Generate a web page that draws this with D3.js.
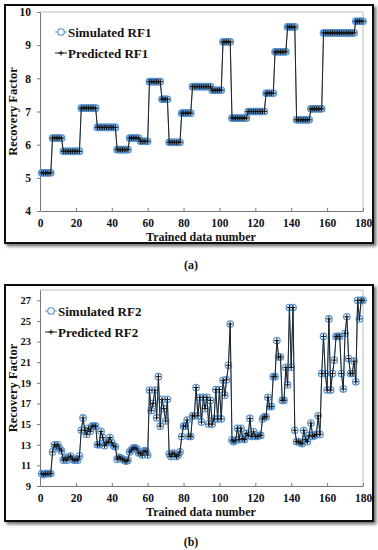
<!DOCTYPE html>
<html>
<head>
<meta charset="utf-8">
<script src="https://cdn.jsdelivr.net/npm/d3@7"></script>
<style>
  body { margin: 0; background: #fff; }
  text { font-family: "Liberation Serif", "Times New Roman", serif; font-weight: bold; }
</style>
</head>
<body>
<div class="chart"></div>
<script>
// trained data index 1..180
var simulatedRF1 = [
  5.15, 5.15, 5.15, 5.15, 5.15, 5.15,
  6.2, 6.2, 6.2, 6.2, 6.2, 6.2,
  5.8, 5.8, 5.8, 5.8, 5.8, 5.8, 5.8, 5.8, 5.8, 5.8,
  7.1, 7.1, 7.1, 7.1, 7.1, 7.1, 7.1, 7.1, 7.1,
  6.52, 6.52, 6.52, 6.52, 6.52, 6.52, 6.52, 6.52, 6.52, 6.52, 6.52,
  5.85, 5.85, 5.85, 5.85, 5.85, 5.85, 5.85,
  6.2, 6.2, 6.2, 6.2, 6.2, 6.2,
  6.1, 6.1, 6.1, 6.1, 6.1,
  7.9, 7.9, 7.9, 7.9, 7.9, 7.9, 7.9,
  7.37, 7.37, 7.37, 7.37,
  6.07, 6.07, 6.07, 6.07, 6.07, 6.07, 6.07,
  6.95, 6.95, 6.95, 6.95, 6.95, 6.95,
  7.75, 7.75, 7.75, 7.75, 7.75, 7.75, 7.75, 7.75, 7.75, 7.75, 7.75,
  7.64, 7.64, 7.64, 7.64, 7.64, 7.64,
  9.1, 9.1, 9.1, 9.1, 9.1,
  6.8, 6.8, 6.8, 6.8, 6.8, 6.8, 6.8, 6.8, 6.8,
  7.0, 7.0, 7.0, 7.0, 7.0, 7.0, 7.0, 7.0, 7.0, 7.0,
  7.55, 7.55, 7.55, 7.55, 7.55,
  8.8, 8.8, 8.8, 8.8, 8.8, 8.8, 8.8,
  9.55, 9.55, 9.55, 9.55, 9.55,
  6.75, 6.75, 6.75, 6.75, 6.75, 6.75, 6.75, 6.75,
  7.08, 7.08, 7.08, 7.08, 7.08, 7.08, 7.08,
  9.37, 9.37, 9.37, 9.37, 9.37, 9.37, 9.37, 9.37, 9.37, 9.37, 9.37, 9.37, 9.37, 9.37, 9.37, 9.37, 9.37, 9.37,
  9.72, 9.72, 9.72, 9.72, 9.72
];
// predicted values sit on top of the simulated ones in the picture
var predictedRF1 = simulatedRF1.slice();

var simulatedRF2 = [
  10.2, 10.1, 10.2, 10.2, 10.2, 10.2, 12.3, 13.0, 12.8, 13.0,
  12.6, 12.4, 11.5, 11.7, 11.5, 11.8, 11.9, 11.6, 11.5, 11.6,
  11.5, 11.9, 14.4, 15.6, 14.4, 14.0, 14.6, 14.3, 14.8, 14.8,
  14.8, 13.0, 13.0, 14.3, 13.7, 12.9, 13.2, 13.3, 13.7, 13.2,
  12.9, 12.8, 11.6, 11.8, 11.7, 11.6, 11.5, 11.4, 11.5, 12.3,
  12.5, 12.7, 12.7, 12.6, 12.2, 12.2, 12.0, 12.4, 12.4, 12.0,
  18.3, 16.3, 17.0, 18.3, 15.6, 19.6, 14.8, 17.4, 16.5, 15.3,
  17.4, 12.1, 11.85, 12.2, 12.1, 11.85, 12.0, 12.3, 13.8, 14.8,
  14.8, 15.4, 13.8, 13.8, 15.8, 15.8, 18.55, 15.8, 17.6, 15.2,
  17.6, 16.5, 17.6, 15.0, 17.3, 15.0, 15.5, 18.35, 15.5, 18.35,
  15.5, 19.25, 17.8, 19.3, 20.7, 24.7, 13.45, 13.3, 13.45, 14.6,
  13.5, 14.6, 13.6, 13.5, 14.1, 13.9, 15.55, 13.8, 14.25, 13.8,
  13.8, 13.9, 13.9, 15.5, 15.7, 15.7, 17.6, 16.7, 16.7, 19.6,
  19.6, 23.1, 21.5, 21.5, 17.3, 17.3, 20.5, 18.8, 26.3, 20.5,
  26.3, 14.4, 13.3, 13.3, 13.2, 13.1, 14.4, 13.5, 13.3, 13.9,
  15.1, 13.8, 13.9, 14.0, 15.8, 14.0, 19.9, 23.5, 19.9, 18.3,
  25.2, 18.3, 19.9, 21.2, 23.5, 23.5, 23.5, 19.9, 18.4, 23.8,
  25.4, 21.35, 19.9, 19.9, 21.1, 19.1, 27.0, 25.2, 27.0, 27.0
];
var predictedRF2 = simulatedRF2.slice();

var xTicks = [0, 20, 40, 60, 80, 100, 120, 140, 160, 180];
var yTicksRF1 = [4, 5, 6, 7, 8, 9, 10];
var yTicksRF2 = [9, 11, 13, 15, 17, 19, 21, 23, 25, 27];

var fullWidth = 378;
var fullHeight = 550;

var svg = d3
  .select(".chart")
  .append("svg")
  .attr("width", fullWidth)
  .attr("height", fullHeight);

var defs = svg.append("defs");
defs
  .append("filter")
  .attr("id", "shadow")
  .attr("x", "-5%")
  .attr("y", "-5%")
  .attr("width", "115%")
  .attr("height", "115%")
  .append("feDropShadow")
  .attr("dx", 2.5)
  .attr("dy", 2.5)
  .attr("stdDeviation", 1.5)
  .attr("flood-color", "#555")
  .attr("flood-opacity", 0.8);

function panel(opts) {
  var g = svg.append("g");

  // framed box with shadow
  g.append("rect")
    .attr("x", opts.box[0])
    .attr("y", opts.box[1])
    .attr("width", opts.box[2])
    .attr("height", opts.box[3])
    .attr("fill", "#fff")
    .attr("stroke", "#111")
    .attr("stroke-width", 2)
    .attr("filter", "url(#shadow)");

  var left = 40, right = 363;
  var xScale = d3.scaleLinear().domain([0, 180]).range([left, right]);
  var yScale = d3.scaleLinear().domain(opts.yDomain).range([opts.bottom, opts.top]);

  // light plot frame (top + right)
  g.append("path")
    .attr("d", `M${left},${opts.top}H${right}V${opts.bottom}`)
    .attr("fill", "none")
    .attr("stroke", "#bbb")
    .attr("stroke-width", 1);

  var xAxis = g
    .append("g")
    .attr("transform", `translate(0, ${opts.bottom})`)
    .call(d3.axisBottom(xScale).tickValues(xTicks).tickFormat(d3.format("d")).tickSizeInner(-3).tickSizeOuter(0).tickPadding(8));
  xAxis.select(".domain").attr("stroke", "#777");
  xAxis.selectAll(".tick line").attr("stroke", "#777");
  xAxis.selectAll("text").attr("font-size", 11.5).attr("fill", "#111").style("font-family", "Liberation Serif");

  var yAxis = g
    .append("g")
    .attr("transform", `translate(${left}, 0)`)
    .call(d3.axisLeft(yScale).tickValues(opts.yTicks).tickFormat(d3.format("d")).tickSizeInner(3).tickSizeOuter(0).tickPadding(6));
  yAxis.select(".domain").attr("stroke", "#777");
  yAxis.selectAll(".tick line").attr("stroke", "#777");
  yAxis.selectAll("text").attr("font-size", opts.yFont).attr("fill", "#111").style("font-family", "Liberation Serif");

  g.append("text")
    .attr("x", 201)
    .attr("y", opts.bottom + 30)
    .attr("text-anchor", "middle")
    .attr("font-size", 12)
    .attr("fill", "#111")
    .text("Trained data number");

  g.append("text")
    .attr("transform", `translate(17, ${(opts.top + opts.bottom) / 2}) rotate(-90)`)
    .attr("text-anchor", "middle")
    .attr("font-size", 12.5)
    .attr("fill", "#111")
    .text("Recovery Factor");

  var pts = opts.sim.map((v, i) => ({ x: i + 1, y: v }));
  var pred = opts.pred.map((v, i) => ({ x: i + 1, y: v }));

  var line = d3.line().x(d => xScale(d.x)).y(d => yScale(d.y));

  g.append("path")
    .datum(pts)
    .attr("d", line)
    .attr("fill", "none")
    .attr("stroke", "#5b9bd5")
    .attr("stroke-width", 1);

  g.selectAll(".sim")
    .data(pts)
    .enter()
    .append("circle")
    .attr("class", "sim")
    .attr("cx", d => xScale(d.x))
    .attr("cy", d => yScale(d.y))
    .attr("r", 3.3)
    .attr("fill", opts.circleFill)
    .attr("stroke", "#4f8fd0")
    .attr("stroke-width", 1.1);

  g.append("path")
    .datum(pred)
    .attr("d", line)
    .attr("fill", "none")
    .attr("stroke", "#222")
    .attr("stroke-width", 1);

  g.selectAll(".pred")
    .data(pred)
    .enter()
    .append("path")
    .attr("class", "pred")
    .attr("d", d => `M${xScale(d.x) - 2.5},${yScale(d.y)}h5M${xScale(d.x)},${yScale(d.y) - 2.5}v5`)
    .attr("stroke", "#111")
    .attr("stroke-width", 1);

  // legend
  var lx = opts.legend[0], ly = opts.legend[1];
  g.append("line")
    .attr("x1", lx).attr("x2", lx + 12)
    .attr("y1", ly).attr("y2", ly)
    .attr("stroke", "#5b9bd5");
  g.append("circle")
    .attr("cx", lx + 6).attr("cy", ly).attr("r", 3.3)
    .attr("fill", "#fff").attr("stroke", "#4f8fd0").attr("stroke-width", 1.1);
  g.append("text")
    .attr("x", lx + 13).attr("y", ly + 4.5)
    .attr("font-size", 13).attr("fill", "#111")
    .text(opts.names[0]);

  g.append("line")
    .attr("x1", lx).attr("x2", lx + 12)
    .attr("y1", ly + 21).attr("y2", ly + 21)
    .attr("stroke", "#222");
  g.append("path")
    .attr("d", `M${lx + 3.5},${ly + 21}h5M${lx + 6},${ly + 18.5}v5`)
    .attr("stroke", "#111");
  g.append("text")
    .attr("x", lx + 13).attr("y", ly + 25.5)
    .attr("font-size", 13).attr("fill", "#111")
    .text(opts.names[1]);

  svg.append("text")
    .attr("x", 191)
    .attr("y", opts.caption)
    .attr("text-anchor", "middle")
    .attr("font-size", 12)
    .attr("font-weight", "normal")
    .attr("fill", "#111")
    .text(opts.label);
}

panel({
  box: [5, 5, 368, 238],
  top: 12,
  bottom: 211,
  yDomain: [4, 10],
  yTicks: yTicksRF1,
  yFont: 11.5,
  sim: simulatedRF1,
  pred: predictedRF1,
  circleFill: "#a8c8ea",
  names: ["Simulated RF1", "Predicted RF1"],
  legend: [55, 32],
  caption: 269,
  label: "(a)"
});

panel({
  box: [5, 285, 368, 236],
  top: 290,
  bottom: 486,
  yDomain: [9, 28],
  yTicks: yTicksRF2,
  yFont: 10.5,
  sim: simulatedRF2,
  pred: predictedRF2,
  circleFill: "none",
  names: ["Simulated RF2", "Predicted RF2"],
  legend: [45, 311],
  caption: 546,
  label: "(b)"
});
</script>
</body>
</html>
